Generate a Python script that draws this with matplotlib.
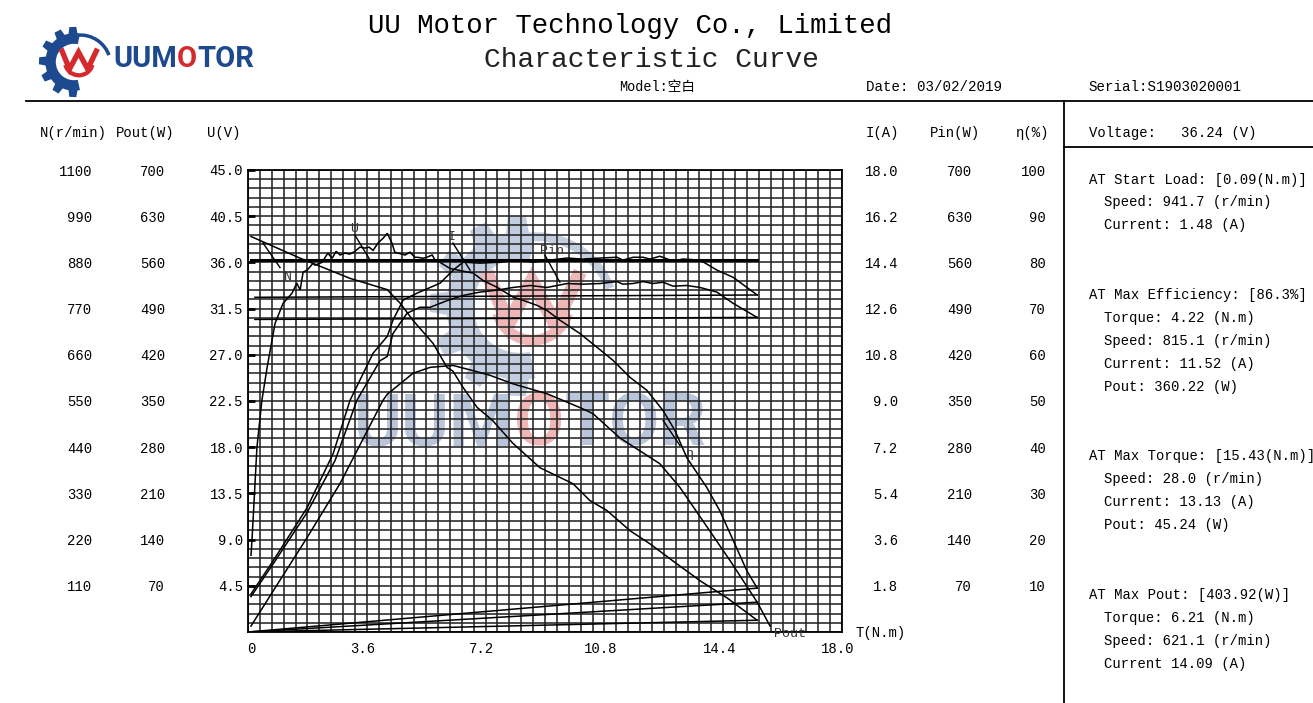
import numpy as np
import matplotlib
matplotlib.use("Agg")
import matplotlib.pyplot as plt
from matplotlib.patches import Wedge, Polygon
from matplotlib.transforms import Affine2D, ScaledTranslation
from matplotlib.lines import Line2D

plt.rcParams['font.family'] = ['Liberation Mono', 'Noto Sans CJK SC', 'DejaVu Sans']

# ------------------------------------------------------------------ data
# torque axis
x_ticks = [0, 3.6, 7.2, 10.8, 14.4, 18.0]
x_tick_labels = ["0", "3.6", "7.2", "10.8", "14.4", "18.0"]

# scale tick labels
n_ticks = [110, 220, 330, 440, 550, 660, 770, 880, 990, 1100]
pout_ticks = [70, 140, 210, 280, 350, 420, 490, 560, 630, 700]
u_ticks = [4.5, 9.0, 13.5, 18.0, 22.5, 27.0, 31.5, 36.0, 40.5, 45.0]
i_ticks = [1.8, 3.6, 5.4, 7.2, 9.0, 10.8, 12.6, 14.4, 16.2, 18.0]
pin_ticks = [70, 140, 210, 280, 350, 420, 490, 560, 630, 700]
eta_ticks = [10, 20, 30, 40, 50, 60, 70, 80, 90, 100]

# efficiency (%)
T_eta = [0.09, 0.12, 0.27, 0.42, 0.58, 0.82, 1.06, 1.33, 1.48, 1.58,
         1.67, 1.79, 1.97, 2.03, 2.24, 2.42, 2.55, 2.67, 2.79, 2.94,
         3.09, 3.24, 3.39, 3.55, 3.67, 3.79, 3.94, 4.09, 4.22, 4.36,
         4.45, 4.55, 4.76, 4.91, 5.06, 5.15, 5.30, 5.42, 5.58, 5.67,
         5.82, 6.12, 6.52, 6.82, 7.12, 7.55, 8.03, 8.33, 8.76, 9.06,
         9.45, 10.06, 10.58, 11.06, 11.58, 12.09, 12.58, 12.94, 13.30, 13.91,
         14.30, 14.61, 15.12, 15.43]
eta = [16.6, 19.7, 39.9, 50.1, 57.3, 66.8, 71.1, 73.3, 75.5, 74.0,
       77.9, 78.3, 79.8, 79.4, 80.0, 82.0, 80.9, 82.4, 81.6, 82.0,
       81.8, 82.4, 83.3, 83.1, 83.3, 82.6, 84.2, 85.2, 86.3, 84.2,
       82.2, 82.0, 81.6, 82.2, 81.1, 81.1, 80.9, 81.1, 81.6, 80.5,
       80.0, 78.7, 78.1, 77.7, 76.1, 74.6, 72.5, 71.8, 70.7, 69.6,
       67.5, 64.6, 61.6, 58.8, 55.1, 52.3, 47.9, 43.6, 37.7, 31.2,
       26.2, 21.3, 13.2, 9.5]

# speed (r/min)
T_n = [0.09, 1.58, 3.09, 4.22, 4.52, 4.61, 5.00, 5.61, 6.03, 6.21,
       6.52, 6.94, 7.42, 8.03, 8.85, 9.85, 10.36, 10.88, 11.58, 12.18,
       12.88, 13.70, 14.52, 15.43]
speed = [941.7, 890, 842, 815.1, 790, 783, 742, 687, 630, 621.1,
         582, 535, 503, 449, 391, 353, 313, 289, 241, 210,
         169, 122, 81, 28.0]

# output power (W)
T_po = [0.09, 0.76, 1.79, 2.79, 4.09, 4.22, 5.00, 5.52, 6.21, 6.82,
        7.33, 8.03, 9.06, 10.06, 10.45, 11.27, 12.48, 13.09, 13.79, 14.61,
        15.43, 15.82]
pout = [8.9, 62, 143, 225, 351, 360.2, 392, 401, 403.9, 396,
        389, 376, 361, 340, 331, 294, 255, 219, 168, 108,
        45.2, 9]

# current (A)
T_i = [0.09, 0.76, 1.79, 2.58, 3.09, 3.79, 4.22, 4.39, 4.70, 5.12,
       5.82, 6.21, 6.52, 7.03, 7.64, 8.15, 8.64, 9.15, 9.67, 10.15,
       10.67, 11.18, 11.36, 11.67, 11.97, 12.18, 12.48, 12.88, 13.18, 13.70,
       14.21, 14.70, 15.43]
current = [1.48, 2.77, 4.84, 6.95, 9.02, 10.86, 11.52, 12.14, 12.93, 13.20,
           13.59, 14.09, 14.41, 14.37, 14.41, 14.49, 14.41, 14.49, 14.57, 14.53,
           14.57, 14.60, 14.49, 14.60, 14.60, 14.53, 14.64, 14.45, 14.53, 14.49,
           14.10, 13.82, 13.13]

# input power (W)
T_pi = [0.09, 0.76, 1.79, 2.64, 3.30, 4.00, 4.22, 4.39, 4.82, 5.21,
        5.52, 6.03, 6.52, 7.03, 7.55, 8.03, 8.55, 9.06, 9.67, 10.15,
        10.67, 11.18, 11.36, 11.67, 11.97, 12.27, 12.58, 12.88, 13.30, 13.70,
        14.21, 14.70, 15.43]
pin = [53.6, 103, 181, 260, 351, 411, 417.5, 452, 483, 492,
       492, 502, 510, 515, 518, 522, 525, 522, 528, 527,
       528, 531, 527, 528, 531, 528, 530, 524, 525, 522,
       515, 498, 476.6]

# voltage (V)
T_u = [0.09, 15.43]
volt = [36.24, 36.24]

# closing segments drawn by the tester software
close_T_zero = [15.43, 0.0]
close_eta = [9.5, 0.0]
close_pout = [45.2, 0.0]
close_n = [28.0, 0.0]
close_T_i = [15.43, 0.21]
close_i = [13.13, 13.04]
close_pin = [476.6, 473.6]

# ------------------------------------------------------------------ figure
W, H = 1313, 703
fig = plt.figure(figsize=(W / 100, H / 100), dpi=100)
fig.patch.set_facecolor('white')
PX = Affine2D().scale(1.0 / W, -1.0 / H).translate(0, 1) + fig.transFigure
renderer = fig.canvas.get_renderer()

PL, PR, PT, PB = 248, 842, 170, 632
rect = [PL / W, 1 - PB / H, (PR - PL) / W, (PB - PT) / H]

axU = fig.add_axes(rect)
axU.set_xlim(0, 18)
axU.set_ylim(0, 45)
axU.set_xticks(np.linspace(0, 18, 51), minor=True)
axU.set_yticks(np.linspace(0, 45, 51), minor=True)
axU.set_xticks(x_ticks, labels=x_tick_labels)
axU.set_yticks(u_ticks, labels=["%.1f" % v for v in u_ticks])
axU.set_axisbelow(True)
axU.grid(which='both', color='#262626', lw=1.15)
axU.tick_params(which='minor', length=0)
axU.tick_params(axis='y', which='major', direction='in', length=5, width=2,
                pad=3.6, labelsize=10)
axU.tick_params(axis='x', which='major', length=0, pad=7, labelsize=10)
for i, lab in enumerate(axU.get_xticklabels()):
    dx = 3 if i == 0 else -4
    lab.set_transform(lab.get_transform() + ScaledTranslation(dx / 100, 0, fig.dpi_scale_trans))
for s in axU.spines.values():
    s.set_linewidth(1.3)


def scale_axes(ymax, ticks, labels, side, pad):
    a = fig.add_axes(rect, sharex=axU, facecolor='none', label='sc%d%s' % (ymax, side))
    a.set_ylim(0, ymax)
    a.xaxis.set_visible(False)
    for s in a.spines.values():
        s.set_visible(False)
    if side == 'right':
        a.yaxis.tick_right()
        a.set_yticks(ticks, labels=labels, ha='right')
    else:
        a.set_yticks(ticks, labels=labels)
    a.tick_params(axis='y', length=0, pad=pad, labelsize=10)
    return a


axN = scale_axes(1100, n_ticks, [str(v) for v in n_ticks], 'left', 112.3)
axPo = scale_axes(700, pout_ticks, [str(v) for v in pout_ticks], 'left', 59.8)
axI = scale_axes(18, i_ticks, ["%.1f" % v for v in i_ticks], 'right', 40.3)
axPi = scale_axes(700, pin_ticks, [str(v) for v in pin_ticks], 'right', 93.6)
axE = scale_axes(100, eta_ticks, [str(v) for v in eta_ticks], 'right', 146.9)

lk = dict(color='black', lw=1.1, solid_joinstyle='miter')
axE.plot(T_eta, eta, **lk)
axN.plot(T_n, speed, **lk)
axPo.plot(T_po, pout, clip_on=False, **lk)
axI.plot(T_i, current, **lk)
axPi.plot(T_pi, pin, **lk)
axU.plot(T_u, volt, color='black', lw=2.2, zorder=3)

axE.plot(close_T_zero, close_eta, **lk)
axPo.plot(close_T_zero, close_pout, **lk)
axN.plot(close_T_zero, close_n, **lk)
axI.plot(close_T_i, close_i, **lk)
axPi.plot(close_T_i, close_pin, **lk)

# curve labels with leader lines (in voltage-axis units)
lab_font = dict(fontsize=9.5, color='#333333', ha='center', va='center', zorder=4)
curve_labels = [("N", 1.21, 34.56, (0.45, 0.97), (37.9, 35.5)),
                ("U", 3.21, 39.3, (3.24, 3.70), (38.66, 36.22)),
                ("I", 6.18, 38.46, (6.21, 6.73), (37.88, 35.24)),
                ("Pin", 9.21, 37.1, (9.00, 9.45), (36.7, 34.07)),
                ("η", 13.39, 17.3, (12.58, 13.09), (20.6, 18.16))]
for txt, tx, ty, lx, ly in curve_labels:
    axU.text(tx, ty, txt, **lab_font)
    axU.plot(lx, ly, color='black', lw=1.0, zorder=4)
axU.text(16.42, -0.15, "Pout", clip_on=False, **lab_font)

# ------------------------------------------------------------------ logos


def add_logo(adder, cx, cy, R, blue, red, z):
    arts = []
    arts.append(Wedge((cx, cy), R * 0.82, 78, 282, width=R * 0.30, transform=PX,
                      color=blue, zorder=z, lw=0))
    for ang in [92, 122, 152, 182, 212, 242, 268]:
        t = np.deg2rad(ang)
        d = np.array([np.cos(t), np.sin(t)])
        p = np.array([-np.sin(t), np.cos(t)])
        c = np.array([cx, cy])
        pts = [c + d * R * 0.72 + p * R * 0.14, c + d * R * 1.0 + p * R * 0.10,
               c + d * R * 1.0 - p * R * 0.10, c + d * R * 0.72 - p * R * 0.14]
        arts.append(Polygon(pts, closed=True, transform=PX, color=blue, zorder=z, lw=0))
    arts.append(Wedge((cx + R * 0.18, cy + R * 0.10), R * 0.92, 218, 340, width=R * 0.10,
                      transform=PX, color=blue, zorder=z, lw=0))
    arts.append(Wedge((cx + R * 0.14, cy - R * 0.02), R * 0.46, 15, 165, width=R * 0.12,
                      transform=PX, color=red, zorder=z, lw=0))
    wx = cx + R * np.array([-0.42, -0.18, 0.08, 0.34, 0.62]) + R * 0.05
    wy = cy + R * np.array([-0.38, 0.20, -0.28, 0.20, -0.38])
    arts.append(Line2D(wx, wy, transform=PX, color=red, lw=R * 0.11, zorder=z,
                       solid_joinstyle='miter', solid_capstyle='butt'))
    for a in arts:
        adder(a)


def colored_word(adder_text, x, y, parts, size, z, va='center'):
    for s, col in parts:
        t = adder_text(x, y, s, transform=PX, color=col, fontsize=size,
                       family='Roboto', weight='bold', ha='left', va=va, zorder=z)
        x += t.get_window_extent(renderer=renderer).width


# watermark inside the plot (below the grid)
add_logo(axU.add_artist, 520, 306, 90, '#c3cde0', '#efb7b7', 0.2)
colored_word(axU.text, 354, 446,
             [("UUM", '#b9c5da'), ("O", '#f0b5b5'), ("TOR", '#b9c5da')], 52.5, 0.2,
             va='baseline')

# header logo
add_logo(fig.add_artist, 74, 62, 35, '#1d4a8f', '#d42a2e', 3)
colored_word(fig.text, 113, 59,
             [("UUM", '#1d4a8f'), ("O", '#d42a2e'), ("TOR", '#1d4a8f')], 21, 3)

# ------------------------------------------------------------------ header texts


def ftext(x, y, s, **kw):
    kw.setdefault('fontsize', 10)
    kw.setdefault('va', 'center')
    kw.setdefault('ha', 'left')
    kw.setdefault('color', 'black')
    return fig.text(x, y, s, transform=PX, **kw)


ftext(630, 26, "UU Motor Technology Co., Limited", fontsize=19.7, ha='center')
ftext(652, 60, "Characteristic Curve", fontsize=20.1, ha='center', color='#222222')
ftext(619, 87, "Model:空白", fontsize=9.8)
ftext(866, 87, "Date: 03/02/2019", fontsize=10.2)
ftext(1088, 87, "Serial:S1903020001", fontsize=10.2)

ftext(40, 133, "N(r/min)")
ftext(116, 133, "Pout(W)")
ftext(207, 133, "U(V)")
ftext(866, 133, "I(A)")
ftext(930, 133, "Pin(W)")
ftext(1016, 133, "η(%)")

ftext(855, 633, "T(N.m)")

ftext(1089, 133, "Voltage:   36.24 (V)")
panel = [(1089, 180, "AT Start Load: [0.09(N.m)]"),
         (1104, 202, "Speed: 941.7 (r/min)"),
         (1104, 225, "Current: 1.48 (A)"),
         (1089, 295, "AT Max Efficiency: [86.3%]"),
         (1104, 318, "Torque: 4.22 (N.m)"),
         (1104, 341, "Speed: 815.1 (r/min)"),
         (1104, 364, "Current: 11.52 (A)"),
         (1104, 387, "Pout: 360.22 (W)"),
         (1089, 456, "AT Max Torque: [15.43(N.m)]"),
         (1104, 479, "Speed: 28.0 (r/min)"),
         (1104, 502, "Current: 13.13 (A)"),
         (1104, 525, "Pout: 45.24 (W)"),
         (1089, 595, "AT Max Pout: [403.92(W)]"),
         (1104, 618, "Torque: 6.21 (N.m)"),
         (1104, 641, "Speed: 621.1 (r/min)"),
         (1104, 664, "Current 14.09 (A)")]
for x, y, s in panel:
    ftext(x, y, s)

# frame lines of the sheet
fig.add_artist(Line2D([26, W], [101, 101], transform=PX, color='black', lw=1.3))
fig.add_artist(Line2D([1064, 1064], [101, H], transform=PX, color='black', lw=1.3))
fig.add_artist(Line2D([1064, W], [147, 147], transform=PX, color='black', lw=1.3))

fig.savefig("out.png", dpi=100, facecolor='white')
